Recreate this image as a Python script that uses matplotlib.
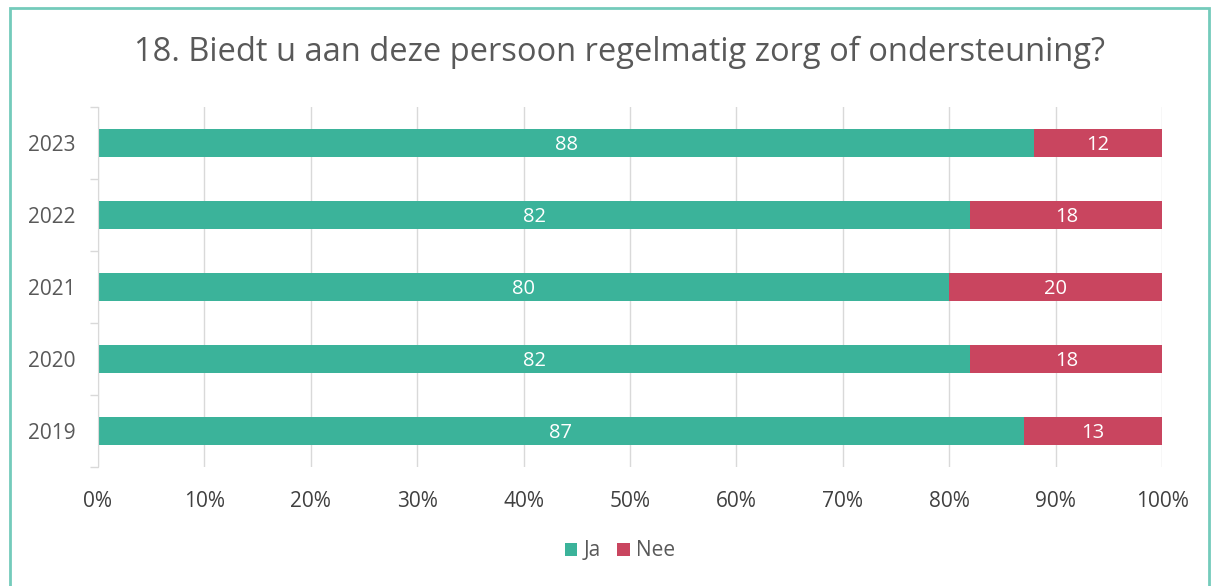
import numpy as np
import matplotlib
matplotlib.use("Agg")
import matplotlib.pyplot as plt
from matplotlib.patches import Rectangle

# Data
years = ["2019", "2020", "2021", "2022", "2023"]
ja = [87, 82, 80, 82, 88]
nee = [13, 18, 20, 18, 12]
x_ticks = [0, 10, 20, 30, 40, 50, 60, 70, 80, 90, 100]

teal = "#3BB39A"
red = "#C9455F"

plt.rcParams['font.family'] = ['Open Sans', 'DejaVu Sans']

fig = plt.figure(figsize=(12.12, 5.86), dpi=100)
ax = fig.add_axes([98 / 1212, 1 - 467 / 586, 1064 / 1212, 360 / 586])

y = np.arange(len(years))
b1 = ax.barh(y, ja, height=0.39, color=teal, label="Ja")
b2 = ax.barh(y, nee, left=ja, height=0.39, color=red, label="Nee")

for i in range(len(years)):
    ax.text(ja[i] / 2, y[i] - 0.03, str(ja[i]), ha="center", va="center", color="white", fontsize=14.5)
    ax.text(ja[i] + nee[i] / 2, y[i] - 0.03, str(nee[i]), ha="center", va="center", color="white", fontsize=14.5)

ax.set_xlim(0, 100)
ax.set_ylim(-0.5, len(years) - 0.5)
ax.set_xticks(x_ticks)
ax.set_xticklabels([f"{t}%" for t in x_ticks], fontsize=15, color="#404040")
ax.tick_params(axis="x", length=0, pad=17)
ax.set_yticks(y)
ax.set_yticklabels(years, fontsize=15, color="#595959")
ax.tick_params(axis="y", which="major", length=0, pad=16)
ax.set_yticks(np.arange(-0.5, len(years), 1), minor=True)
ax.tick_params(axis="y", which="minor", length=6, color="#D9D9D9", width=1)

ax.grid(axis="x", color="#D9D9D9", linewidth=1)
ax.set_axisbelow(True)
for s in ["top", "right", "bottom"]:
    ax.spines[s].set_visible(False)
ax.spines["left"].set_color("#D9D9D9")

fig.text(620 / 1212, 1 - 52 / 586, "18. Biedt u aan deze persoon regelmatig zorg of ondersteuning?",
         ha="center", va="center", fontsize=23.5, color="#595959")

fig.legend(handles=[b1, b2], labels=["Ja", "Nee"], loc="center", bbox_to_anchor=(620 / 1212, 1 - 551 / 586),
           ncol=2, frameon=False, fontsize=15, handlelength=0.6, handleheight=0.6,
           handletextpad=0.3, columnspacing=0.8, labelcolor="#595959")

fig.patches.append(Rectangle((10 / 1212, -0.05), 1199 / 1212, 1.05 - 8 / 586, transform=fig.transFigure,
                             fill=False, edgecolor="#74CBBB", linewidth=2))

fig.savefig("out.png", dpi=100)
